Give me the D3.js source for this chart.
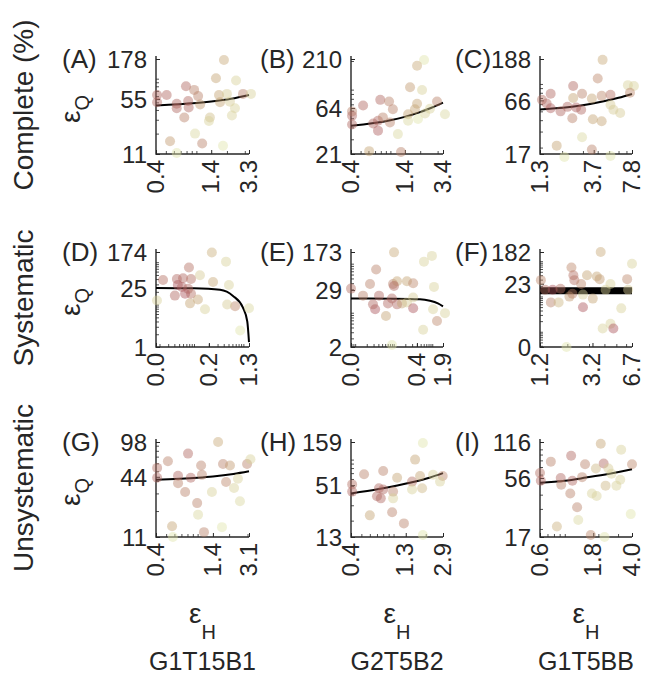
<!DOCTYPE html>
<html><head><meta charset="utf-8">
<script src="https://cdn.jsdelivr.net/npm/d3@7"></script>
<style>
body{margin:0;background:#fff}
text{font-family:"Liberation Sans",Arial,Helvetica,sans-serif;fill:#262626}
</style>
</head><body><svg id="c" width="646" height="675"></svg>
<script>
// ---------- labels ----------
const rowLabels = ["Complete (%)", "Systematic", "Unsystematic"];
const colLabels = ["G1T15B1", "G2T5B2", "G1T5BB"];
const panelLetters = ["(A)","(B)","(C)","(D)","(E)","(F)","(G)","(H)","(I)"];

// ---------- axes (log scales) ----------
const xDomains = [[0.4,3.3],[0.4,3.4],[1.3,7.8],[0.017,1.3],[0.0078,1.9],[1.2,6.7],[0.4,3.1],[0.4,2.9],[0.6,4.0]];
const yDomains = [[11,178],[21,210],[17,188],[1,174],[2,173],[0.37,182],[11,98],[13,159],[17,116]];
const xTickValues = [[0.4,1.4,3.3],[0.4,1.4,3.4],[1.3,3.7,7.8],[0.017,0.2,1.3],[0.0078,0.4,1.9],[1.2,3.2,6.7],[0.4,1.4,3.1],[0.4,1.3,2.9],[0.6,1.8,4.0]];
const xTickLabels = [["0.4","1.4","3.3"],["0.4","1.4","3.4"],["1.3","3.7","7.8"],["0.0","0.2","1.3"],["0.0","0.4","1.9"],["1.2","3.2","6.7"],["0.4","1.4","3.1"],["0.4","1.3","2.9"],["0.6","1.8","4.0"]];
const yTickValues = [[11,55,178],[21,64,210],[17,66,188],[1,25,174],[2,29,173],[0.37,23,182],[11,44,98],[13,51,159],[17,56,116]];
const yTickLabels = [["11","55","178"],["21","64","210"],["17","66","188"],["1","25","174"],["2","29","173"],["0","23","182"],["11","44","98"],["13","51","159"],["17","56","116"]];

// ---------- scatter points: [eps_H, eps_Q, colour value] ----------
const pointsA = [[1.87,173,0.55],[1.56,101,0.5],[2.46,95,0.85],[0.79,80,0.15],[0.95,72,0.3],[0.41,62,0.15],[0.51,62,0.15],[1.04,60,0.3],[1.67,62,0.5],[2.0,64,0.8],[2.88,64,0.3],[3.45,64,0.85],[0.41,50,0.15],[0.64,48,0.15],[0.83,52,0.15],[0.84,43,0.15],[1.09,47,0.45],[1.71,50,0.5],[2.14,51,0.8],[2.40,42,0.85],[0.64,42,0.15],[0.76,32,0.3],[1.36,32,0.7],[1.33,29,0.85],[2.24,34,0.85],[0.97,20,0.9],[0.55,16,0.45],[1.14,15,0.3],[1.83,14,1],[0.64,11.3,1]];
const pointsB = [[2.19,205,1],[1.86,178,0.55],[1.58,106,0.45],[2.09,99,0.85],[0.79,78,0.15],[0.97,75,0.3],[0.53,68,0.15],[1.06,62,0.3],[1.86,71,0.5],[2.96,75,0.3],[0.41,59,0.3],[0.41,53,0.15],[0.41,43,0.15],[0.67,44,0.15],[0.75,47,0.15],[0.84,51,0.3],[0.99,45,0.3],[0.75,37,0.1],[1.51,55,0.5],[1.77,62,0.5],[2.24,56,0.85],[2.51,63,0.85],[3.56,55,0.9],[1.51,47,0.9],[1.19,34,0.9],[0.61,22.5,0.5],[1.28,22,0.3],[1.90,49,1]];
const pointsC = [[4.40,184,0.55],[4.0,115,0.35],[7.2,97,0.85],[8.1,95,0.85],[2.48,95,0.15],[1.60,78,0.15],[2.95,78,0.3],[2.48,70,0.5],[3.57,69,0.5],[4.32,74,0.35],[5.13,76,0.2],[7.5,80,0.35],[1.35,67,0.2],[1.48,61,0.15],[1.60,54,0.1],[1.94,50,0.15],[2.22,56,0.15],[2.63,55,0.1],[2.90,52,0.15],[2.44,42,0.3],[3.64,41,0.5],[4.32,39,0.5],[5.13,59,0.8],[5.43,52,0.8],[6.2,48,0.8],[2.95,26,0.9],[1.80,21,0.5],[3.57,19,0.3],[2.09,15.8,1],[5.13,16.2,1]];
const pointsD = [[0.23,170,0.6],[0.079,75,0.2],[0.132,49,0.8],[0.0236,38,0.2],[0.045,40,0.15],[0.060,42,0.15],[0.087,40,0.2],[0.243,34,0.55],[0.047,29,0.05],[0.057,26,0.1],[0.076,23.5,0.15],[0.041,16.3,0.15],[0.087,18.1,0.2],[0.12,13.2,0.5],[0.083,10.7,0.5],[0.0178,12.5,0.85],[0.167,7.8,0.85],[0.066,18.1,0.05],[0.445,103,0.85],[0.51,29,0.85],[0.68,9.1,0.35],[0.47,10.1,0.8],[1.3,8.2,0.9],[0.86,2.45,1]];
const pointsE = [[0.102,170,0.55],[0.61,110,0.85],[0.035,76,0.3],[0.0243,38.5,0.3],[0.096,38.5,0.3],[0.122,44,0.5],[0.22,44,0.5],[0.32,40,0.35],[0.102,35,0.15],[0.0078,31,0.2],[0.016,22.3,0.3],[0.0416,22.3,0.15],[0.090,19.5,0.15],[0.071,15.5,0.15],[0.122,14.8,0.15],[0.164,15.5,0.5],[0.22,16.2,0.8],[0.32,20.4,0.8],[0.32,12.3,0.05],[0.033,11.8,0.05],[0.029,14.8,0.15],[0.063,8.6,0.5],[0.58,4.5,0.85],[0.09,2.2,1],[0.98,144,0.85],[1.11,33.6,0.85],[1.05,11.8,0.85],[1.33,6.8,0.35],[2.14,9.8,0.85]];
const pointsF = [[3.73,182,0.55],[6.7,85,0.85],[2.16,66,0.35],[2.24,40,0.2],[2.89,40,0.5],[3.47,37,0.5],[2.28,29,0.2],[3.66,31,0.45],[1.22,29,0.35],[6.12,31,0.35],[2.59,22.6,0.35],[4.48,22.6,0.85],[1.32,15.5,0.2],[1.52,15.5,0.05],[1.76,16.5,0.2],[2.08,9.9,0.45],[2.2,12,0.3],[2.68,11.3,0.85],[3.22,8.7,0.5],[1.47,6.8,0.3],[1.70,6.8,0.65],[2.68,4.95,0.05],[4.09,15.5,0.85],[5.48,4.6,0.85],[3.87,1.23,0.85],[4.48,1.69,0.85],[4.73,1.23,0.05],[1.97,0.37,1],[6.23,15.5,0.8]];
const pointsG = [[0.52,63,0.3],[0.81,75,0.15],[1.08,57,0.3],[0.41,54,0.2],[0.41,43,0.15],[0.65,45,0.15],[0.65,38,0.3],[0.86,43,0.15],[1.10,46,0.3],[0.76,31,0.3],[0.99,24,0.3],[1.37,31,0.85],[1.01,18.4,0.9],[0.57,14.1,0.5],[1.15,12.3,0.3],[0.58,11,1],[1.57,98,0.55],[1.75,59,0.3],[2.04,57,0.45],[2.97,59,0.3],[3.2,66,0.85],[2.43,42,0.85],[1.87,39,0.35],[2.23,34,0.85],[2.54,25,0.9],[1.71,13.8,1]];
const pointsH = [[1.88,155,1],[1.59,100,0.5],[0.53,68,0.3],[0.80,74,0.3],[1.08,62,0.5],[1.77,65,0.5],[0.41,52,0.2],[0.41,43,0.15],[0.73,47,0.15],[0.80,45.5,0.15],[0.99,43,0.3],[1.49,56,0.2],[1.85,47,0.65],[0.70,38,0.15],[0.76,36,0.15],[0.99,36,0.85],[1.49,45.5,0.85],[0.60,23,0.5],[0.97,25,0.3],[1.25,18.6,0.3],[1.88,13.7,1],[2.34,67,0.85],[2.88,65,0.35],[2.72,56,0.85]];
const pointsI = [[2.10,112,0.5],[3.20,99,0.85],[1.14,88,0.15],[0.75,78,0.3],[1.52,74,0.3],[2.23,75,0.15],[4.0,74,0.35],[1.90,68,0.65],[2.46,68,0.8],[0.6,62,0.2],[0.61,53,0.15],[0.92,56,0.15],[0.93,49,0.3],[1.17,53,0.15],[1.43,57,0.3],[2.62,61,0.85],[3.14,54,0.85],[2.32,48,0.65],[2.90,48,0.85],[1.12,41,0.3],[1.75,41,0.85],[1.93,39,0.85],[1.29,31,0.3],[1.32,24,0.9],[0.85,21,0.6],[3.9,27,1],[1.71,17.7,0.35],[2.27,17,1]];

// ---------- fitted curves: [eps_H, eps_Q] ----------
const fitA = [[0.4,45.6],[1.0,49],[1.4,51.2],[2.2,55.5],[3.3,62]];
const fitB = [[0.4,41.6],[1.0,47.5],[1.86,56.5],[2.6,64.5],[3.4,73]];
const fitC = [[1.3,52.5],[2.8,57.5],[4.5,64.5],[6,70.5],[7.8,77.7]];
const fitD = [[0.017,24.8],[0.1,24.3],[0.337,22.3],[0.617,16],[0.98,8.5],[1.2,4],[1.3,1.3]];
const fitE = [[0.0078,19.5],[0.1,19.3],[0.48,18.8],[0.87,17.5],[1.4,15.5],[1.9,13.5]];
const fitF = [[1.2,14.5],[6.7,14.5]];
const fitG = [[0.4,41],[1.0,43],[1.4,44.3],[2.2,47],[3.1,50]];
const fitH = [[0.4,41],[0.73,46],[1.49,55],[2.2,62.5],[2.9,70]];
const fitI = [[0.6,51],[1.0,53],[1.55,56.5],[2.5,61],[4.0,67]];

const allPoints = [pointsA,pointsB,pointsC,pointsD,pointsE,pointsF,pointsG,pointsH,pointsI];
const allFits = [fitA,fitB,fitC,fitD,fitE,fitF,fitG,fitH,fitI];

// ---------- layout ----------
const svg = d3.select("#c");
const colX = [[156,249],[351,443],[540,632]];
const rowY = [[154,56],[347,249],[537,439]];
const letterDX = [94,91,85];
const ink = "#262626";
const colour = d3.scaleLinear().domain([0,0.5,1]).range(["#a84c58","#c4a272","#dfe4aa"]);

function minorTicks(dom){
  const out=[]; const lo=Math.floor(Math.log10(dom[0])), hi=Math.ceil(Math.log10(dom[1]));
  for(let k=lo;k<=hi;k++) for(let m=1;m<=9;m++){const v=m*Math.pow(10,k); if(v>=dom[0]*1.0001 && v<=dom[1]*0.9999) out.push(v);}
  return out;
}

allPoints.forEach((pts,i)=>{
  const r=Math.floor(i/3), c=i%3;
  const [x0,x1]=colX[c], [yb,yt]=rowY[r];
  const x=d3.scaleLog().domain(xDomains[i]).range([x0,x1]);
  const y=d3.scaleLog().domain(yDomains[i]).range([yb,yt+3]);
  const g=svg.append("g");

  // minor ticks
  g.append("g").attr("transform",`translate(0,${yb})`)
    .call(d3.axisBottom(x).tickValues(minorTicks(xDomains[i])).tickSize(-3).tickFormat(""))
    .call(a=>{a.select(".domain").remove(); a.selectAll("line").attr("stroke",ink).attr("stroke-width",0.8);});
  g.append("g").attr("transform",`translate(${x0},0)`)
    .call(d3.axisLeft(y).tickValues(minorTicks(yDomains[i])).tickSize(-3).tickFormat(""))
    .call(a=>{a.select(".domain").remove(); a.selectAll("line").attr("stroke",ink).attr("stroke-width",0.8);});

  // labelled ticks
  g.append("g").attr("transform",`translate(0,${yb})`)
    .call(d3.axisBottom(x).tickValues(xTickValues[i]).tickSize(-4).tickFormat((d,j)=>xTickLabels[i][j]))
    .call(a=>{
      a.select(".domain").remove();
      a.selectAll("line").attr("stroke",ink);
      a.selectAll("text").attr("transform","rotate(-90)").attr("text-anchor","end")
        .attr("x",-6).attr("y",0).attr("dy","0.3em").attr("font-size",24).attr("fill",ink);
    });
  g.append("g").attr("transform",`translate(${x0},0)`)
    .call(d3.axisLeft(y).tickValues(yTickValues[i]).tickSize(-4).tickPadding(9).tickFormat((d,j)=>yTickLabels[i][j]))
    .call(a=>{
      a.select(".domain").remove();
      a.selectAll("line").attr("stroke",ink);
      a.selectAll("text").attr("font-size",24).attr("fill",ink).attr("dy","0.36em");
    });
  g.selectAll("g").attr("font-family",null).attr("font-size",null);

  // axis frame (left + bottom)
  g.append("path").attr("d",`M${x0},${yt}V${yb}H${x1}`).attr("fill","none").attr("stroke",ink).attr("stroke-width",1.4);

  // fitted curve
  const line=d3.line().x(d=>x(d[0])).y(d=>y(d[1])).curve(d3.curveMonotoneX);
  g.append("path").datum(allFits[i]).attr("d",line).attr("fill","none").attr("stroke","#000")
    .attr("stroke-width", i===5?7:2);

  // points
  g.append("g").selectAll("circle").data(pts).join("circle")
    .attr("cx",d=>x(d[0])).attr("cy",d=>y(d[1])).attr("r",5)
    .attr("fill",d=>colour(d[2])).attr("fill-opacity",0.45);

  // panel letter
  g.append("text").attr("x",x0-letterDX[c]).attr("y",yt+3).attr("dy","0.36em")
    .attr("font-size",26).text(panelLetters[i]);
});

// row labels + eps_Q
rowLabels.forEach((t,r)=>{
  const cy=(rowY[r][0]+rowY[r][1])/2;
  svg.append("text").attr("transform",`translate(33,${cy}) rotate(-90)`).attr("text-anchor","middle")
    .attr("font-size",28).text(t);
  const q=svg.append("text").attr("transform",`translate(80,${cy+4}) rotate(-90)`).attr("text-anchor","middle").attr("font-size",28);
  q.append("tspan").text("ε");
  q.append("tspan").attr("font-size",20).attr("dy","0.45em").text("Q");
});

// column labels + eps_H
colLabels.forEach((t,c)=>{
  const cx=(colX[c][0]+colX[c][1])/2;
  const h=svg.append("text").attr("x",cx).attr("y",623).attr("text-anchor","middle").attr("font-size",28);
  h.append("tspan").text("ε");
  h.append("tspan").attr("font-size",20).attr("dy",16).text("H");
  svg.append("text").attr("x",cx).attr("y",670).attr("text-anchor","middle").attr("font-size",25).text(t);
});
</script></body></html>
